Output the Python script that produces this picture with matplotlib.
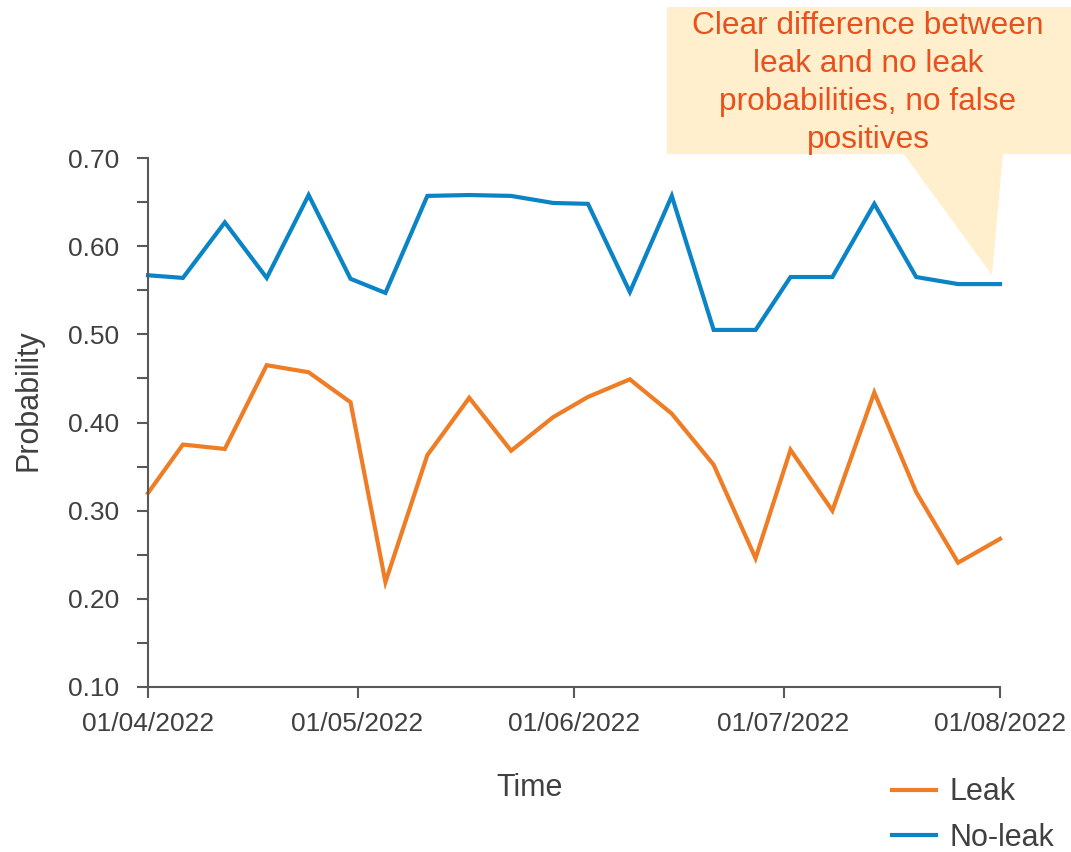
import datetime as dt
import matplotlib
matplotlib.use('Agg')
import matplotlib.pyplot as plt
import matplotlib.dates as mdates
from matplotlib.patches import Rectangle, Polygon
from matplotlib.ticker import MultipleLocator

# sample dates (2022)
dates = ['2022-04-01', '2022-04-06', '2022-04-12', '2022-04-18', '2022-04-24', '2022-04-30',
         '2022-05-05', '2022-05-11', '2022-05-17', '2022-05-23', '2022-05-29',
         '2022-06-03', '2022-06-09', '2022-06-15', '2022-06-21', '2022-06-27',
         '2022-07-02', '2022-07-08', '2022-07-14', '2022-07-20', '2022-07-26', '2022-08-01']

leak = [0.320, 0.375, 0.370, 0.465, 0.457, 0.423,
        0.219, 0.363, 0.428, 0.368, 0.406,
        0.429, 0.449, 0.410, 0.352, 0.246,
        0.369, 0.300, 0.434, 0.321, 0.241, 0.268]

no_leak = [0.567, 0.564, 0.627, 0.564, 0.658, 0.563,
           0.547, 0.657, 0.658, 0.657, 0.649,
           0.648, 0.548, 0.657, 0.505, 0.505,
           0.565, 0.565, 0.648, 0.565, 0.557, 0.557]

month_ticks = ['2022-04-01', '2022-05-01', '2022-06-01', '2022-07-01', '2022-08-01']

note = 'Clear difference between\nleak and no leak\nprobabilities, no false\npositives'

plt.rcParams['font.family'] = ['Liberation Sans', 'DejaVu Sans']
txt = '#404040'
axis_col = '#595959'

x = [dt.datetime.strptime(d, '%Y-%m-%d') for d in dates]
xt = [dt.datetime.strptime(d, '%Y-%m-%d') for d in month_ticks]

W, H = 1071, 852
fig = plt.figure(figsize=(W / 100, H / 100), dpi=100)
ax = fig.add_axes([148 / W, 1 - 687 / H, 852 / W, 529 / H])

ax.plot(x, leak, color='#EE7D26', lw=3, label='Leak', clip_on=False, solid_joinstyle='miter')
ax.plot(x, no_leak, color='#0A84C6', lw=3, label='No-leak', clip_on=False, solid_joinstyle='miter')

ax.set_xlim(xt[0], xt[-1])
ax.set_ylim(0.1, 0.7)
ax.set_xticks(xt)
ax.xaxis.set_major_formatter(mdates.DateFormatter('%d/%m/%Y'))
ax.yaxis.set_major_locator(MultipleLocator(0.1))
ax.yaxis.set_minor_locator(MultipleLocator(0.05))
ax.yaxis.set_major_formatter(matplotlib.ticker.FormatStrFormatter('%.2f'))

for s in ['top', 'right']:
    ax.spines[s].set_visible(False)
for s in ['left', 'bottom']:
    ax.spines[s].set_color(axis_col)
    ax.spines[s].set_linewidth(1.5)

ax.tick_params(axis='both', which='both', direction='out', length=8, width=1.5,
               color=axis_col, labelcolor=txt, labelsize=19)
ax.tick_params(axis='y', pad=13)
ax.tick_params(axis='x', pad=10)

ax.set_xlabel('Time', fontsize=22, color=txt)
ax.xaxis.set_label_coords((530 - 148) / 852, (687 - 773) / 529)
ax.set_ylabel('Probability', fontsize=22, color=txt)
ax.yaxis.set_label_coords((44 - 148) / 852, (687 - 400) / 529)

leg = ax.legend(loc='center left', bbox_to_anchor=(892 / W, 1 - 815 / H),
                bbox_transform=fig.transFigure, frameon=False, fontsize=22,
                handlelength=1.45, handletextpad=0.42, labelspacing=0.5,
                borderpad=0, borderaxespad=0)
for t in leg.get_texts():
    t.set_color(txt)

# callout box with pointer
box_col = '#FFEFCC'
fig.patches.append(Rectangle((667 / W, 1 - 154 / H), (W - 667) / W, 147 / H,
                             transform=fig.transFigure, facecolor=box_col,
                             edgecolor='none', zorder=0))
fig.patches.append(Polygon([(903 / W, 1 - 153 / H), (1003 / W, 1 - 153 / H), (992 / W, 1 - 275 / H)],
                           closed=True, transform=fig.transFigure, facecolor=box_col,
                           edgecolor='none', zorder=0))
fig.text(868 / W, 1 - 83 / H, note, ha='center', va='center', fontsize=22.8,
         color='#E8501E', linespacing=1.36)

fig.savefig('out.png', dpi=100)
